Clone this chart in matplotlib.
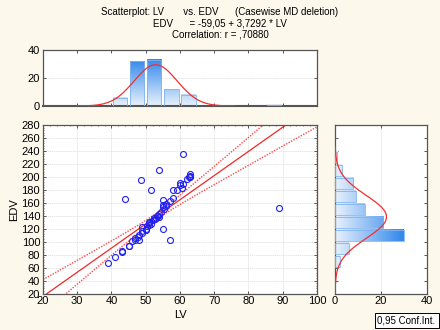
import numpy as np
import matplotlib
matplotlib.use('Agg')
import matplotlib.pyplot as plt
from matplotlib.colors import LinearSegmentedColormap
from matplotlib.ticker import MultipleLocator

plt.rcParams['font.family'] = ['Liberation Sans', 'DejaVu Sans']

# scatter data (LV, EDV)
lv = [39, 41, 43, 43, 44, 45, 45, 46, 47, 47, 47.6, 48, 48, 48.6, 49, 49, 49,
      50, 50, 50.5, 51, 51, 51, 51.4, 51.5, 52, 52.4, 52.7, 53, 53.4, 53.7, 54,
      54, 54.4, 54, 55, 55, 55, 55, 55.3, 56, 56, 57, 57, 58, 58, 59, 60, 60,
      60.7, 61, 61, 62, 62.5, 63, 63, 63, 89]
edv = [67, 76, 86, 84, 166, 94, 93, 101, 105, 102, 107, 110, 103, 195, 113, 122,
       117, 120, 118, 124, 125, 129, 130, 180, 128, 133, 136, 135, 137, 140, 139,
       143, 211, 146, 138, 120, 164, 156, 154, 150, 158, 155, 103, 163, 167, 179,
       179, 190, 188, 183, 235, 189, 197, 200, 201, 205, 200, 152]

# regression and summary statistics (from the title / histograms)
b0, b1 = -59.05, 3.7292
r = 0.70880
n_obs = 93
lv_mean, lv_sd = 52.9, 6.3
edv_mean = b0 + b1 * lv_mean
edv_sd = b1 * lv_sd / r

# histogram counts
lv_bins = [40, 45, 50, 55, 60, 85]
lv_counts = [6, 32, 33, 12, 8, 1]
edv_bins = [60, 80, 100, 120, 140, 160, 180, 200, 220]
edv_counts = [2, 6, 30, 21, 13, 9, 8, 3, 1]

bg = '#fdf8ec'
spine_c = '#555555'
grid_c = '#dcdcdc'
blue_cm = LinearSegmentedColormap.from_list('bl', ['#e8f1fc', '#1a7aea'])

fig = plt.figure(figsize=(4.4, 3.3), dpi=100, facecolor=bg)
ax = fig.add_axes([0.0977, 0.1106, 0.6227, 0.5106])
axt = fig.add_axes([0.0977, 0.6788, 0.6227, 0.1697])
axr = fig.add_axes([0.7614, 0.1106, 0.2090, 0.5106])

for a in (ax, axt, axr):
    a.set_facecolor('white')
    for s in a.spines.values():
        s.set_color(spine_c)
        s.set_linewidth(0.9)
    a.tick_params(direction='in', length=2, width=0.7, color=spine_c,
                  labelsize=8, pad=2, top=True, right=True)

# main scatter
ax.set_xlim(20, 100)
ax.set_ylim(20, 280)
ax.xaxis.set_major_locator(MultipleLocator(10))
ax.yaxis.set_major_locator(MultipleLocator(20))
ax.xaxis.set_minor_locator(MultipleLocator(2))
ax.yaxis.set_minor_locator(MultipleLocator(4))
ax.tick_params(which='minor', direction='in', length=1, width=0.5,
               color=spine_c, top=True, right=True, bottom=False)
ax.grid(True, color=grid_c, linestyle=(0, (2, 1)), linewidth=0.5)
ax.set_axisbelow(True)

xs = np.linspace(20, 100, 200)
fit = b0 + b1 * xs
sxx = (n_obs - 1) * lv_sd ** 2
s_res = edv_sd * np.sqrt(1 - r ** 2) * np.sqrt((n_obs - 1) / (n_obs - 2))
half = 1.986 * s_res * np.sqrt(1 / n_obs + (xs - lv_mean) ** 2 / sxx)
ax.plot(xs, fit, color='#f02828', lw=0.9)
ax.plot(xs, fit + half, color='#ff4848', lw=1.0, linestyle=(0, (1, 1)))
ax.plot(xs, fit - half, color='#ff4848', lw=1.0, linestyle=(0, (1, 1)))
ax.plot(lv, edv, 'o', mfc='none', mec='#2020f0', ms=4.3, mew=0.8)
ax.set_xlabel('LV', fontsize=8, labelpad=3)
ax.set_ylabel('EDV', fontsize=8, labelpad=2)

# top histogram (LV)
axt.set_xlim(20, 100)
axt.set_ylim(0, 40)
axt.xaxis.set_major_locator(MultipleLocator(10))
axt.yaxis.set_major_locator(MultipleLocator(20))
axt.tick_params(labelbottom=False)
axt.grid(True, axis='y', color=grid_c, linestyle=(0, (2, 1)), linewidth=0.5)
axt.set_axisbelow(True)
for x0, c in zip(lv_bins, lv_counts):
    grad = np.linspace(0, c, 50).reshape(-1, 1)
    axt.imshow(grad, extent=[x0 + 0.4, x0 + 4.6, 0, c], origin='lower',
               aspect='auto', cmap=blue_cm, vmin=0, vmax=38, zorder=2)
    axt.bar(x0 + 0.4, c, width=4.2, align='edge', facecolor='none',
            edgecolor='#80b4f0', linewidth=0.6, zorder=3)
xt = np.linspace(30, 76, 200)
axt.plot(xt, n_obs * 5 * np.exp(-0.5 * ((xt - lv_mean) / lv_sd) ** 2)
         / (np.sqrt(2 * np.pi) * lv_sd), color='#f03030', lw=0.9, zorder=4)
axt.set_xlim(20, 100)
axt.set_ylim(0, 40)
axt.spines['bottom'].set_linewidth(1.5)

# right histogram (EDV)
axr.set_xlim(0, 40)
axr.set_ylim(20, 280)
axr.xaxis.set_major_locator(MultipleLocator(20))
axr.yaxis.set_major_locator(MultipleLocator(20))
axr.tick_params(labelleft=False)
axr.grid(True, axis='x', color=grid_c, linestyle=(0, (2, 1)), linewidth=0.5)
axr.set_axisbelow(True)
for y0, c in zip(edv_bins, edv_counts):
    grad = np.linspace(0, c, 50).reshape(1, -1)
    axr.imshow(grad, extent=[0, c, y0 + 1.5, y0 + 18.5], origin='lower',
               aspect='auto', cmap=blue_cm, vmin=0, vmax=34, zorder=2)
    axr.barh(y0 + 1.5, c, height=17, align='edge', facecolor='none',
             edgecolor='#80b4f0', linewidth=0.6, zorder=3)
ye = np.linspace(20, 246, 200)
axr.plot(n_obs * 20 * np.exp(-0.5 * ((ye - edv_mean) / edv_sd) ** 2)
         / (np.sqrt(2 * np.pi) * edv_sd), ye, color='#f03030', lw=0.9, zorder=4)
axr.set_xlim(0, 40)
axr.set_ylim(20, 280)

# titles
fig.text(0.5, 0.965, 'Scatterplot: LV       vs. EDV      (Casewise MD deletion)',
         ha='center', va='center', fontsize=7)
fig.text(0.5, 0.93, 'EDV      = -59,05 + 3,7292 * LV', ha='center', va='center',
         fontsize=7)
fig.text(0.5, 0.895, 'Correlation: r = ,70880', ha='center', va='center',
         fontsize=7)

fig.text(0.924, 0.029, '0,95 Conf.Int.', ha='center', va='center', fontsize=7,
         bbox=dict(boxstyle='square,pad=0.3', facecolor='white',
                   edgecolor='black', linewidth=0.7))

fig.savefig('out.png', dpi=100, facecolor=bg)
